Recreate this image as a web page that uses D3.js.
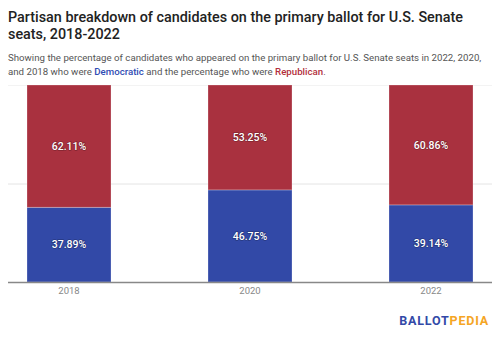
<!DOCTYPE html>
<html>
<head>
<meta charset="utf-8">
<script src="https://cdn.jsdelivr.net/npm/d3@7"></script>
<style>
  html, body { margin: 0; padding: 0; background: #fff; }
  body { width: 500px; height: 339px; overflow: hidden; font-family: Roboto, "Noto Sans", sans-serif; }
  svg { display: block; }
</style>
</head>
<body>
<svg id="chart" width="500" height="339"></svg>
<script>
// Election years and each party's share of primary-ballot candidates (%)
const years = ["2018", "2020", "2022"];
const democratic = [37.89, 46.75, 39.14];
const republican = [62.11, 53.25, 60.86];
const yTicks = [0, 50, 100];

const colors = { dem: "#3249a7", rep: "#a9313f" };

const svg = d3.select("#chart");
const plot = { left: 8, right: 492, top: 85, bottom: 282 };

// Scale a text element's font size so its first line spans the given width
function fitWidth(sel, lineSel, target) {
  const size = +sel.attr("font-size");
  const w = lineSel.node().getComputedTextLength();
  sel.attr("font-size", (size * target / w).toFixed(2));
}

// Title
const title = svg.append("text")
  .attr("x", 8).attr("y", 22)
  .attr("font-size", 15).attr("font-weight", 500).attr("fill", "#222");
const t1 = title.append("tspan").attr("x", 8).text("Partisan breakdown of candidates on the primary ballot for U.S. Senate");
title.append("tspan").attr("x", 8).attr("dy", 16.5).text("seats, 2018-2022");
fitWidth(title, t1, 455);

// Subtitle
const sub = svg.append("text")
  .attr("x", 8).attr("y", 60.5)
  .attr("font-size", 10).attr("fill", "#555");
const s1 = sub.append("tspan").attr("x", 8).text("Showing the percentage of candidates who appeared on the primary ballot for U.S. Senate seats in 2022, 2020,");
const l2 = sub.append("tspan").attr("x", 8).attr("dy", 14);
l2.append("tspan").text("and 2018 who were ");
l2.append("tspan").attr("fill", "#2f4cb3").attr("font-weight", 500).text("Democratic");
l2.append("tspan").text(" and the percentage who were ");
l2.append("tspan").attr("fill", "#b32f3c").attr("font-weight", 500).text("Republican");
l2.append("tspan").text(".");
fitWidth(sub, s1, 474);

// Scales
const x = d3.scaleBand().domain(years)
  .range([plot.left, plot.right])
  .paddingInner(0.536).paddingOuter(0.105);
const y = d3.scaleLinear().domain([0, 100]).range([plot.bottom, plot.top]);

// Gridlines
svg.append("g").selectAll("line")
  .data(yTicks.filter(t => t > 0))
  .join("line")
  .attr("x1", plot.left).attr("x2", plot.right)
  .attr("y1", d => y(d) + 0.5).attr("y2", d => y(d) + 0.5)
  .attr("stroke", d => d === 100 ? "#f3f3f3" : "#e4e4e4").attr("stroke-width", 1);

// Stacked data
const rows = years.map((yr, i) => ({ year: yr, dem: democratic[i], rep: republican[i] }));
const stack = d3.stack().keys(["dem", "rep"])(rows);

const layers = svg.append("g").selectAll("g")
  .data(stack).join("g")
  .attr("fill", d => colors[d.key]);

layers.selectAll("rect")
  .data(d => d.map(v => ({ key: d.key, v })))
  .join("rect")
  .attr("x", d => x(d.v.data.year))
  .attr("width", x.bandwidth())
  .attr("y", d => y(d.v[1]))
  .attr("height", d => y(d.v[0]) - y(d.v[1]))
  .attr("stroke", "rgba(255,255,255,0.25)")
  .attr("stroke-width", 1);

// Value labels
const fmt = v => v.toFixed(2) + "%";
layers.selectAll("text")
  .data(d => d.map(v => ({ key: d.key, v })))
  .join("text")
  .attr("x", d => x(d.v.data.year) + x.bandwidth() / 2)
  .attr("y", d => (y(d.v[0]) + y(d.v[1])) / 2)
  .attr("dy", "0.35em")
  .attr("text-anchor", "middle")
  .attr("font-size", 10.5).attr("font-weight", 500)
  .attr("fill", "#fff")
  .style("paint-order", "stroke")
  .attr("stroke", "rgba(0,0,0,0.25)").attr("stroke-width", 1.5)
  .text(d => fmt(d.v.data[d.key]));

// Baseline
svg.append("line")
  .attr("x1", plot.left).attr("x2", plot.right)
  .attr("y1", y(0) + 0.5).attr("y2", y(0) + 0.5)
  .attr("stroke", "#888").attr("stroke-width", 1.5);

// X axis
const xAxis = svg.append("g")
  .attr("transform", `translate(0,${plot.bottom})`)
  .call(d3.axisBottom(x).tickSize(0).tickPadding(5));
xAxis.select(".domain").remove();
xAxis.selectAll("text")
  .attr("font-family", "Roboto, sans-serif")
  .attr("font-size", 9.5).attr("fill", "#888");

// Logo
const logo = svg.append("text")
  .attr("x", 489).attr("y", 325)
  .attr("text-anchor", "end")
  .attr("font-size", 12.5).attr("font-weight", 700)
  .attr("letter-spacing", 0.8);
logo.append("tspan").attr("fill", "#3249a7").text("BALLOT");
logo.append("tspan").attr("fill", "#f5a524").text("PEDIA");
</script>
</body>
</html>
